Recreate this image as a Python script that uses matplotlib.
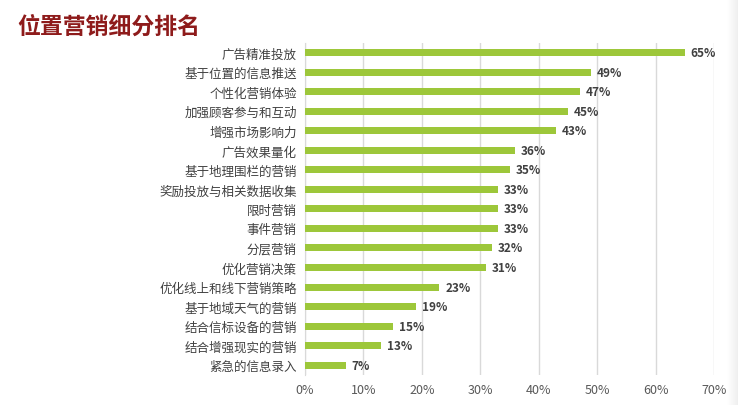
import matplotlib
matplotlib.use("Agg")
import matplotlib.pyplot as plt
import numpy as np
from matplotlib.ticker import FuncFormatter, MultipleLocator

plt.rcParams['font.family'] = ['Noto Sans CJK SC', 'DejaVu Sans']

categories = ["广告精准投放", "基于位置的信息推送", "个性化营销体验", "加强顾客参与和互动",
              "增强市场影响力", "广告效果量化", "基于地理围栏的营销", "奖励投放与相关数据收集",
              "限时营销", "事件营销", "分层营销", "优化营销决策", "优化线上和线下营销策略",
              "基于地域天气的营销", "结合信标设备的营销", "结合增强现实的营销", "紧急的信息录入"]
values = [65, 49, 47, 45, 43, 36, 35, 33, 33, 33, 32, 31, 23, 19, 15, 13, 7]
title = "位置营销细分排名"

fig = plt.figure(figsize=(7.38, 4.06), dpi=100)

# faint shaded strip at the right edge
bg = fig.add_axes([0.985, 0, 0.015, 1], zorder=-1)
grad = np.linspace(1.0, 0.93, 50).reshape(1, -1)
bg.imshow(grad, aspect='auto', cmap='gray', vmin=0, vmax=1, extent=[0, 1, 0, 1])
bg.axis('off')

ax = fig.add_axes([0.4133, 0.074, 0.5542, 0.818])

n = len(categories)
ypos = list(range(n))
ax.barh(ypos, values, height=0.36, color="#9DC73A", zorder=3)
for y, v in zip(ypos, values):
    ax.text(v + 1.0, y, f"{v}%", va="center", ha="left", fontsize=8.5,
            color="#404040", fontweight="semibold")

ax.set_yticks(ypos)
ax.set_yticklabels(categories, fontsize=9, color="#404040")
ax.set_ylim(n - 0.5, -0.5)
ax.set_xlim(0, 70)
ax.xaxis.set_major_locator(MultipleLocator(10))
ax.xaxis.set_major_formatter(FuncFormatter(lambda x, p: f"{int(round(x))}%"))
ax.tick_params(axis='x', labelsize=9, colors="#595959", length=0, pad=6)
ax.tick_params(axis='y', length=0, pad=6)
ax.grid(axis='x', color="#D9D9D9", linewidth=1, zorder=0)
for s in ["top", "right", "bottom"]:
    ax.spines[s].set_visible(False)
ax.spines["left"].set_color("#D9D9D9")

fig.text(0.024, 0.933, title, fontsize=16.5, fontweight="bold", color="#8E1B1B",
         va="center", ha="left")

fig.savefig("out.png", dpi=100)
